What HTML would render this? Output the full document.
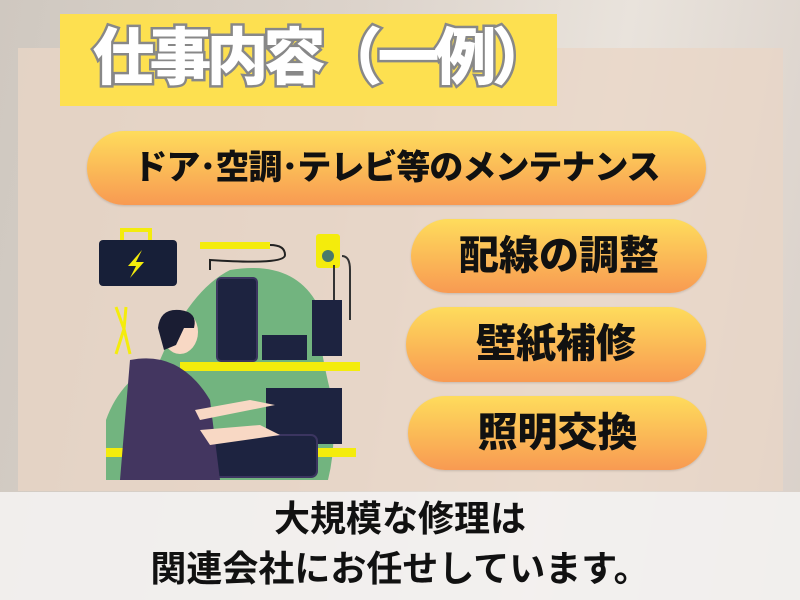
<!DOCTYPE html>
<html><head><meta charset="utf-8"><style>
body{margin:0;width:800px;height:600px;overflow:hidden;position:relative;background:linear-gradient(100deg,#cfc8c0 0%,#dcd3cb 40%,#e9e3dc 70%,#d9d0c9 100%);font-family:"Liberation Sans","Noto Sans CJK JP",sans-serif}
.panel{position:absolute;left:18px;top:48px;width:765px;height:443px;background:rgba(234,214,198,0.75)}
.title{position:absolute;left:60px;top:14px;width:497px;height:92px;background:#fde050;color:#fff;font-weight:900;font-size:62px;line-height:90px;text-align:center;-webkit-text-stroke:5px #888;paint-order:stroke fill;letter-spacing:-5px;white-space:nowrap;text-indent:24px}
.pill{position:absolute;border-radius:40px;background:linear-gradient(#fedc5c,#f89a52);font-weight:900;color:#111;text-align:center;box-shadow:0 1px 2px rgba(0,0,0,.15);white-space:nowrap}
.bottom{position:absolute;left:0;top:492px;width:800px;height:108px;background:rgba(243,241,240,0.92);text-align:center;font-weight:bold;font-size:36px;line-height:50px;color:#111;padding-top:2px;box-sizing:border-box}
</style></head><body>
<div class="panel"></div>
<div class="title">仕事内容（一例）</div>
<div class="pill" style="left:87px;top:131px;width:619px;height:74px;line-height:74px;font-size:34px;letter-spacing:-1px">ドア･空調･テレビ等のメンテナンス</div>
<div class="pill" style="left:411px;top:219px;width:296px;height:74px;line-height:74px;font-size:40px">配線の調整</div>
<div class="pill" style="left:406px;top:307px;width:300px;height:75px;line-height:75px;font-size:40px">壁紙補修</div>
<div class="pill" style="left:408px;top:396px;width:299px;height:74px;line-height:74px;font-size:40px">照明交換</div>
<svg style="position:absolute;left:80px;top:220px" width="300" height="270" viewBox="0 0 300 270">
<path d="M26 260 L26 200 Q40 160 80 140 Q110 70 150 50 Q210 40 235 80 Q240 130 250 170 Q258 220 248 260 Z" fill="#72b47f"/>
<rect x="26" y="228" width="250" height="9" fill="#f4ec0c"/>
<rect x="100" y="142" width="180" height="9" fill="#f4ec0c"/>
<rect x="19" y="20" width="78" height="46" rx="4" fill="#171f38"/>
<path d="M40 8 h32 v12 h-4 v-8 h-24 v8 h-4z" fill="#f4ec0c"/>
<path d="M62 30 l-14 16 h8 l-6 12 14-16 h-8z" fill="#f4ec0c"/>
<rect x="120" y="22" width="70" height="7" fill="#f4ec0c"/><path d="M190 25 Q205 25 205 35 Q205 45 130 40 v10" stroke="#222" fill="none" stroke-width="2"/>
<rect x="236" y="14" width="24" height="34" rx="3" fill="#f4ec0c"/><circle cx="248" cy="36" r="6" fill="#4a7a6a"/>
<path d="M254 45 v60 M262 36 Q270 36 270 50 v50" stroke="#333" stroke-width="2" fill="none"/>
<rect x="137" y="58" width="40" height="83" rx="4" fill="#1d2340" stroke="#3b3560" stroke-width="2"/>
<rect x="182" y="115" width="45" height="25" fill="#1d2340"/>
<rect x="232" y="80" width="30" height="56" fill="#1d2340"/>
<rect x="186" y="168" width="76" height="56" fill="#1d2340"/>
<rect x="133" y="215" width="104" height="42" rx="6" fill="#1d2340" stroke="#3b3560" stroke-width="2"/>
<path d="M36 87 l8 22 -8 25 M46 87 l-2 22 6 25" stroke="#f4ec0c" stroke-width="3" fill="none"/>
<path d="M50 140 Q100 130 130 180 L140 260 H40 Z" fill="#433660"/>
<path d="M120 210 L180 205 L200 215 L130 225 Z M115 190 L170 180 L195 185 L120 200Z" fill="#f8d8c4"/>
<ellipse cx="100" cy="112" rx="18" ry="22" fill="#f8d8c4"/>
<path d="M78 108 Q80 88 100 90 Q118 92 114 108 L104 108 L96 125 L84 130 Z" fill="#1a1d33"/>
</svg>
<div class="bottom">大規模な修理は<br>関連会社にお任せしています。</div>
</body></html>
